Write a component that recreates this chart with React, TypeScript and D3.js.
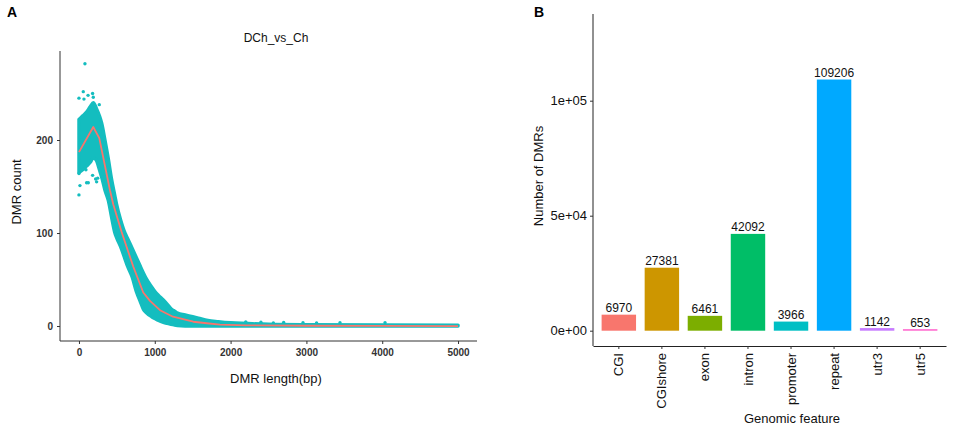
import { useRef, useEffect } from "react";
import * as d3 from "d3";

// Panel A: DMR length distribution
const FIT_LENGTH = [0, 189, 268, 409, 452, 563, 629, 716, 848, 937, 1069, 1240, 1508, 1685, 1860, 2200, 3000, 4000, 5000];
const FIT_COUNT = [187, 214, 202, 146, 131, 101, 85, 64, 36, 27, 17, 10, 4.6, 3, 1.6, 0.8, 0.3, 0.1, 0];

// upper / lower edge of the dense point cloud
const BAND_LENGTH = [0, 50, 100, 150, 190, 230, 270, 300, 343, 387, 430, 474, 496, 550, 607, 642, 700, 761, 805, 850, 880, 959, 1003, 1050, 1113, 1180, 1222, 1262, 1300, 1400, 1500, 1575, 1700, 1838, 2000, 2500, 3000, 4000, 5000];
const BAND_UPPER = [222, 226, 230, 236, 240, 234, 226, 218, 200, 180, 158, 140, 131, 114, 100, 94, 84, 73, 65, 57, 52, 42, 37, 33, 28, 22, 18, 16, 14, 12, 10, 8.5, 6, 4.7, 3.5, 2, 1.5, 1.2, 1];
const BAND_LOWER = [165, 168, 172, 176, 181, 178, 168, 160, 146, 135, 117, 100, 95, 85, 72, 64, 53, 36, 27, 18, 15, 10, 8, 6, 4, 2.5, 1.8, 1, 0.5, 0, 0, 0, 0, 0, 0, 0, 0, 0, 0];

// scattered points outside the cloud
const OUT_LENGTH = [79, 57, 0, 66, 180, 189, 268, 120, 0, 101, 123, 247, 13, 0, 92, 233, 180, 220, 30, 2200, 2400, 2564, 2700, 2955, 3134, 3443, 4037];
const OUT_COUNT = [282, 252, 245, 244, 250, 246, 238, 248, 141, 154, 154, 159, 151, 164, 168, 155, 162, 158, 200, 4.5, 4, 3.2, 3.8, 3.5, 3.2, 3.5, 3.6];

const X_TICKS_A = [0, 1000, 2000, 3000, 4000, 5000];
const Y_TICKS_A = [0, 100, 200];

// Panel B: genomic features
const FEATURES = ["CGI", "CGIshore", "exon", "intron", "promoter", "repeat", "utr3", "utr5"];
const DMR_NUMBERS = [6970, 27381, 6461, 42092, 3966, 109206, 1142, 653];
const FEATURE_COLORS = ["#F8766D", "#CD9600", "#7CAE00", "#00BE67", "#00BFC4", "#00A9FF", "#C77CFF", "#FF61CC"];
const Y_TICKS_B = [0, 50000, 100000];
const Y_TICK_LABELS_B = ["0e+00", "5e+04", "1e+05"];

const TEAL = "#14BDBF";
const FONT = "'Liberation Sans', Arial, sans-serif";

export default function App() {
  const svgRef = useRef<SVGSVGElement>(null);

  useEffect(() => {
    if (!svgRef.current) return;
    const svg = d3.select(svgRef.current);
    svg.selectAll("*").remove();
    svg.attr("font-family", FONT);

    // ---------- Panel A ----------
    const ax = d3.scaleLinear().domain([-250, 5250]).range([60, 477]);
    const ay = d3.scaleLinear().domain([-16.1, 295.7]).range([341, 51]);
    const a = svg.append("g");

    const band = BAND_LENGTH.map((l, i) => ({ l, u: BAND_UPPER[i], lo: BAND_LOWER[i] }));
    const area = d3.area<{ l: number; u: number; lo: number }>()
      .x((d) => ax(d.l))
      .y0((d) => ay(d.lo))
      .y1((d) => ay(d.u))
      .curve(d3.curveMonotoneX);
    a.append("path")
      .datum(band)
      .attr("d", area)
      .attr("fill", TEAL)
      .attr("stroke", TEAL)
      .attr("stroke-width", 3.4)
      .attr("stroke-linejoin", "round");

    a.selectAll("circle.out")
      .data(OUT_LENGTH.map((l, i) => ({ l, c: OUT_COUNT[i] })))
      .join("circle")
      .attr("cx", (d) => ax(d.l))
      .attr("cy", (d) => ay(d.c))
      .attr("r", 1.7)
      .attr("fill", TEAL);

    const fit = d3.line<number>()
      .x((d, i) => ax(FIT_LENGTH[i]))
      .y((d) => ay(d))
      .curve(d3.curveLinear);
    a.append("path")
      .datum(FIT_COUNT)
      .attr("d", fit)
      .attr("fill", "none")
      .attr("stroke", "#F8766D")
      .attr("stroke-width", 1.8)
      .attr("stroke-linejoin", "round");

    a.append("g")
      .attr("transform", "translate(0,341)")
      .call(d3.axisBottom(ax).tickValues(X_TICKS_A).tickSize(3).tickPadding(5).tickFormat((d) => `${d}`))
      .call((g) => g.select(".domain").attr("d", "M60,0H477").attr("stroke", "#333"))
      .call((g) => g.selectAll(".tick line").attr("stroke", "#333"))
      .call((g) => g.selectAll(".tick text").attr("fill", "#333").attr("font-size", "10px").attr("font-weight", "bold").attr("font-family", FONT));

    a.append("g")
      .attr("transform", "translate(60,0)")
      .call(d3.axisLeft(ay).tickValues(Y_TICKS_A).tickSize(3).tickPadding(4).tickFormat((d) => `${d}`))
      .call((g) => g.select(".domain").attr("d", "M0,51V341").attr("stroke", "#333"))
      .call((g) => g.selectAll(".tick line").attr("stroke", "#333"))
      .call((g) => g.selectAll(".tick text").attr("fill", "#333").attr("font-size", "10px").attr("font-weight", "bold").attr("font-family", FONT));

    a.append("text").attr("x", 276).attr("y", 41.5).attr("text-anchor", "middle").attr("font-size", "12px").attr("fill", "#111").text("DCh_vs_Ch");
    a.append("text").attr("x", 276).attr("y", 383).attr("text-anchor", "middle").attr("font-size", "13px").attr("fill", "#111").text("DMR length(bp)");
    a.append("text").attr("transform", "translate(21,192) rotate(-90)").attr("text-anchor", "middle").attr("font-size", "13px").attr("fill", "#111").text("DMR count");
    a.append("text").attr("x", 7).attr("y", 17).attr("font-size", "14px").attr("font-weight", "bold").text("A");

    // ---------- Panel B ----------
    const bx = d3.scaleBand<string>().domain(FEATURES).range([593, 946]).paddingInner(0.2).paddingOuter(0.2);
    const by = d3.scaleLinear().domain([-6652, 137696]).range([346, 14]);
    const b = svg.append("g");

    b.selectAll("rect.bar")
      .data(FEATURES.map((f, i) => ({ f, v: DMR_NUMBERS[i], c: FEATURE_COLORS[i] })))
      .join("rect")
      .attr("x", (d) => bx(d.f)!)
      .attr("width", bx.bandwidth())
      .attr("y", (d) => by(d.v))
      .attr("height", (d) => by(0) - by(d.v))
      .attr("fill", (d) => d.c);

    b.selectAll("text.val")
      .data(FEATURES.map((f, i) => ({ f, v: DMR_NUMBERS[i] })))
      .join("text")
      .attr("x", (d) => bx(d.f)! + bx.bandwidth() / 2)
      .attr("y", (d) => by(d.v) - 2.5)
      .attr("text-anchor", "middle")
      .attr("font-size", "12px")
      .attr("fill", "#111")
      .text((d) => `${d.v}`);

    b.append("g")
      .attr("transform", "translate(0,346)")
      .call(d3.axisBottom(bx).tickSize(3).tickSizeOuter(0))
      .call((g) => g.select(".domain").attr("stroke", "#222"))
      .call((g) => g.selectAll(".tick line").attr("stroke", "#333"))
      .call((g) => g.selectAll(".tick text")
        .attr("fill", "#111")
        .attr("font-size", "13px")
        .attr("font-family", FONT)
        .attr("text-anchor", "end")
        .attr("transform", "rotate(-90)")
        .attr("x", -7)
        .attr("y", 0)
        .attr("dy", "0.35em"));

    b.append("g")
      .attr("transform", "translate(593,0)")
      .call(d3.axisLeft(by).tickValues(Y_TICKS_B).tickSize(3).tickPadding(3).tickFormat((d, i) => Y_TICK_LABELS_B[i]))
      .call((g) => g.select(".domain").attr("d", "M0,14V346").attr("stroke", "#222"))
      .call((g) => g.selectAll(".tick line").attr("stroke", "#333"))
      .call((g) => g.selectAll(".tick text").attr("fill", "#111").attr("font-size", "13px").attr("font-family", FONT));

    b.append("text").attr("x", 792).attr("y", 422.5).attr("text-anchor", "middle").attr("font-size", "13px").attr("fill", "#111").text("Genomic feature");
    b.append("text").attr("transform", "translate(543,176) rotate(-90)").attr("text-anchor", "middle").attr("font-size", "13px").attr("fill", "#111").text("Number of DMRs");
    b.append("text").attr("x", 534).attr("y", 17).attr("font-size", "14px").attr("font-weight", "bold").text("B");
  }, []);

  return (
    <svg
      ref={svgRef}
      width={957}
      height={434}
      style={{ position: "absolute", left: 0, top: 0, background: "#fff" }}
    />
  );
}
